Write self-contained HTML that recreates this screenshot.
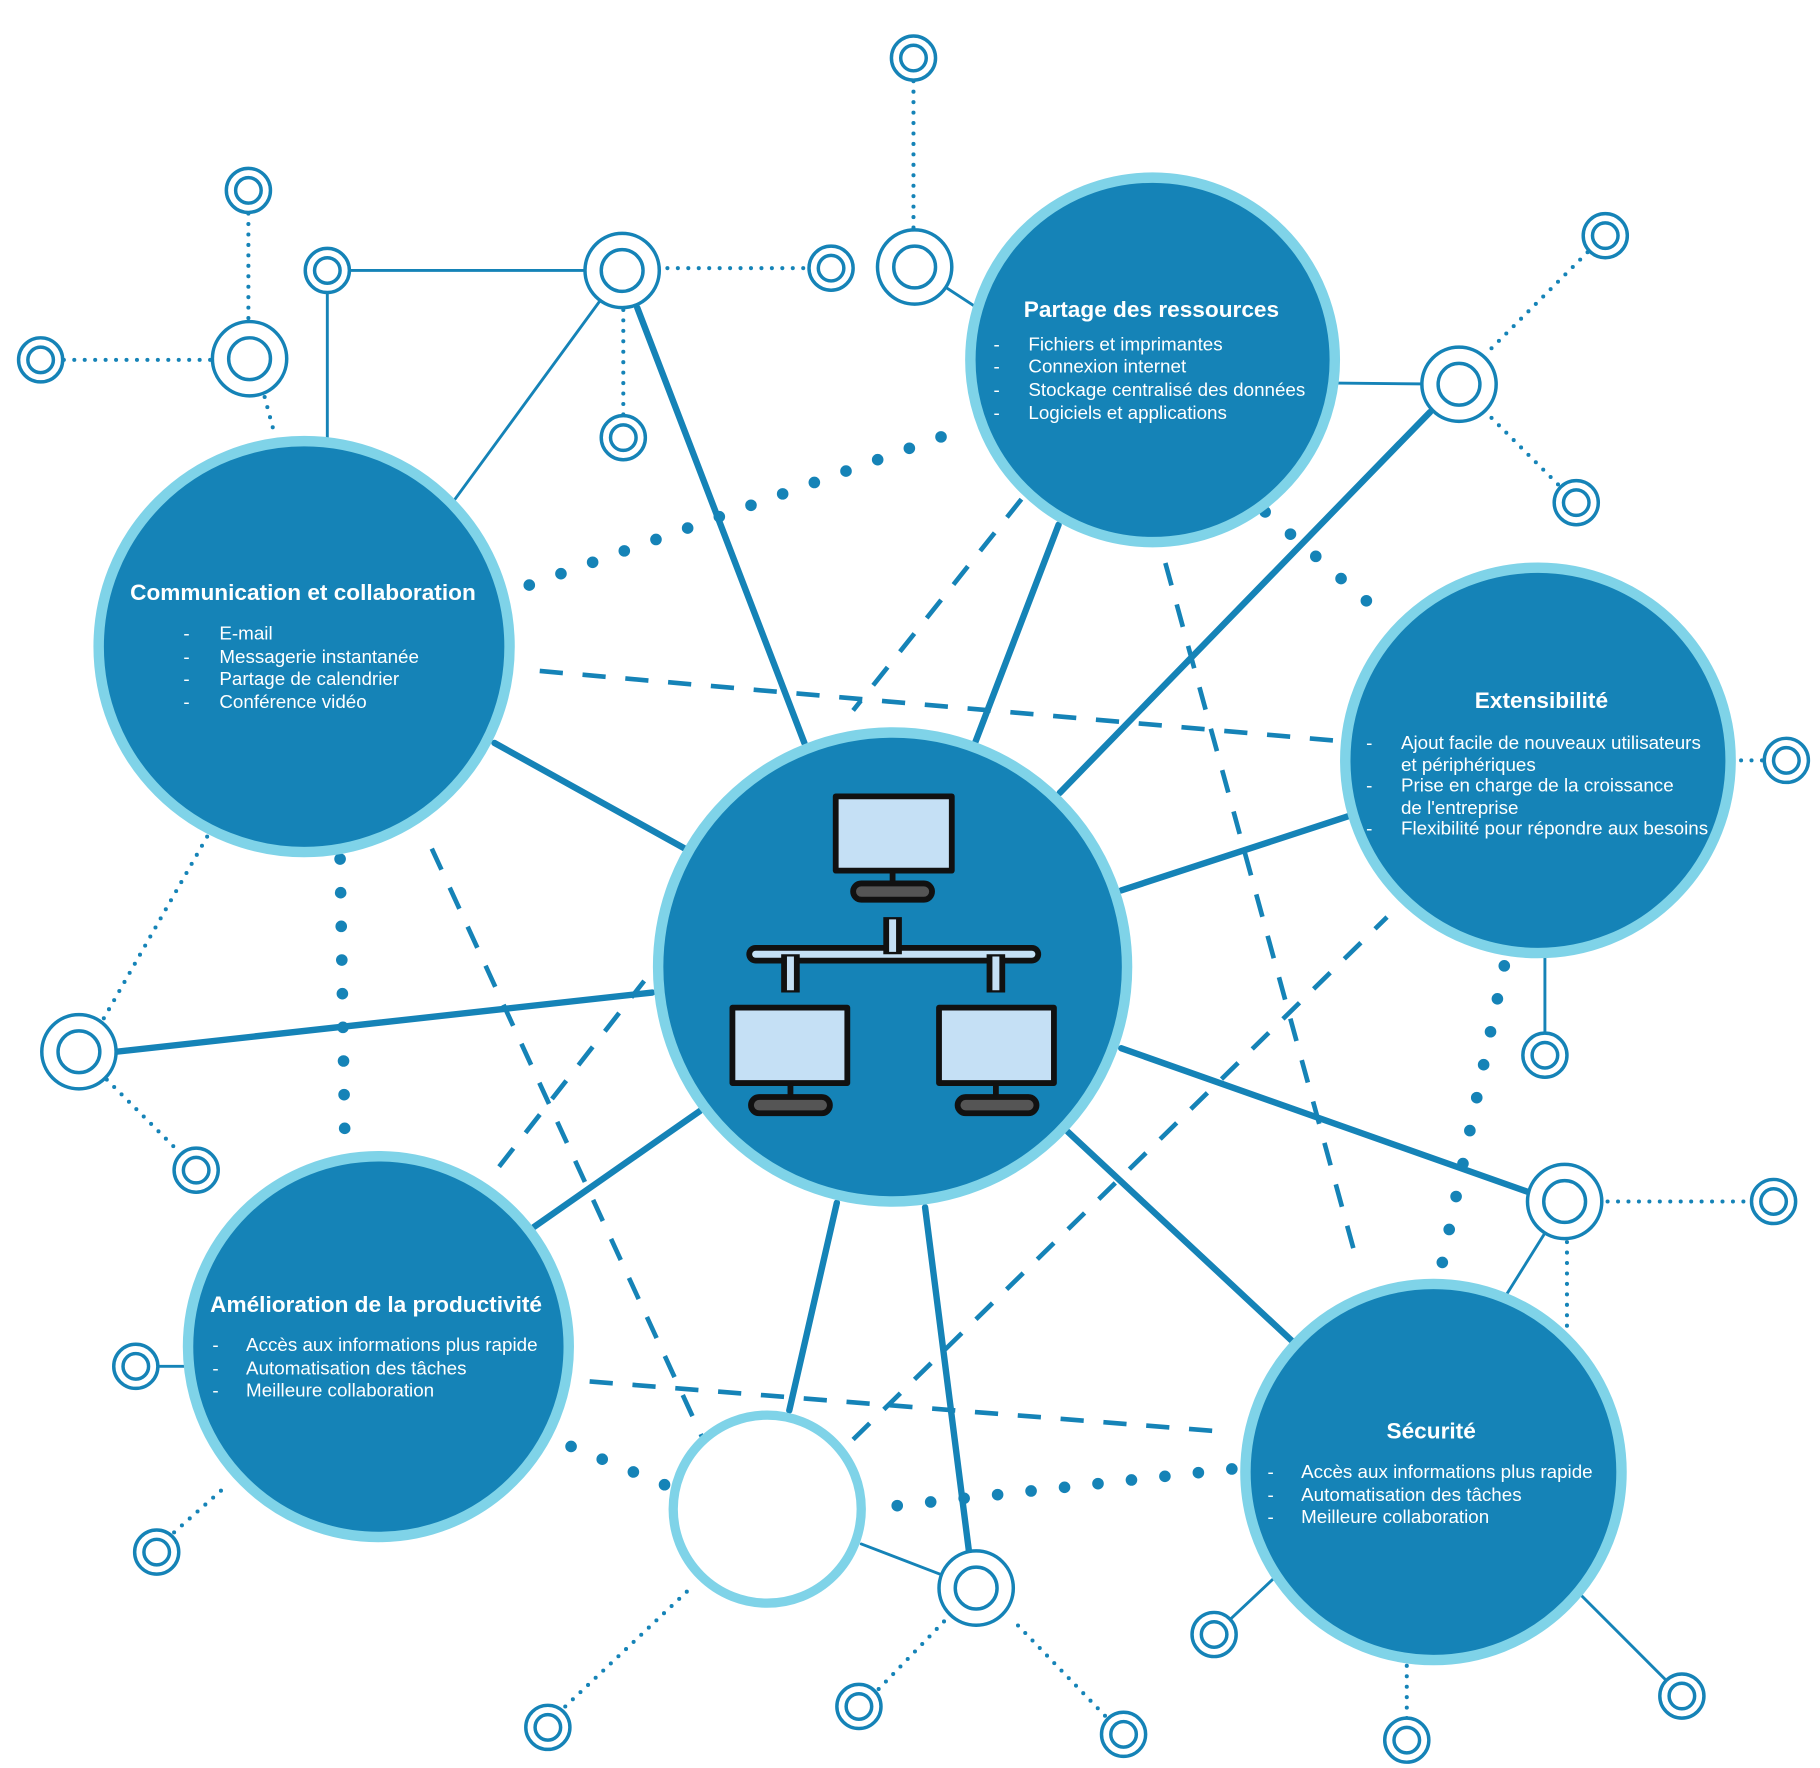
<!DOCTYPE html>
<html><head><meta charset="utf-8"><style>
html,body{margin:0;padding:0;background:#fff}
svg{display:block}
text{font-family:"Liberation Sans",Arial,sans-serif;fill:#fff}
.t{font-weight:bold;font-size:19.5px}
.i{font-size:16.2px}
</style></head><body>
<svg width="1820" height="1768" viewBox="0 0 1568 1523" preserveAspectRatio="none" xmlns="http://www.w3.org/2000/svg">
<g stroke="#1583b7" fill="none" stroke-linecap="round">
<g stroke-width="2.5">
<line x1="282" y1="233" x2="536" y2="233"/><line x1="282" y1="233" x2="282" y2="380"/>
<line x1="536" y1="233" x2="392" y2="430"/><line x1="788" y1="230" x2="840" y2="264"/>
<line x1="1150" y1="330" x2="1257" y2="331"/><line x1="1331" y1="820" x2="1331" y2="890"/>
<line x1="1348" y1="1035" x2="1298" y2="1115"/><line x1="1046" y1="1408" x2="1097" y2="1360"/>
<line x1="1362" y1="1374" x2="1449" y2="1461"/><line x1="117" y1="1177" x2="162" y2="1177"/>
<line x1="742" y1="1330" x2="841" y2="1368"/>
</g>
<g stroke-width="5.5">
<line x1="549" y1="265" x2="693" y2="640"/><line x1="912" y1="452" x2="840" y2="640"/>
<line x1="1232" y1="355" x2="913" y2="683"/><line x1="1162" y1="703" x2="966" y2="767"/>
<line x1="966" y1="903" x2="1320" y2="1028"/><line x1="920" y1="975" x2="1113" y2="1155"/>
<line x1="797" y1="1040" x2="835" y2="1338"/><line x1="721" y1="1036" x2="680" y2="1215"/>
<line x1="603" y1="957" x2="460" y2="1057"/><line x1="562" y1="855" x2="100" y2="906"/>
<line x1="426" y1="640" x2="590" y2="731"/>
</g>
<g stroke-width="3.5" stroke-dasharray="0 9">
<line x1="787" y1="70" x2="787" y2="198"/><line x1="214" y1="184" x2="214" y2="277"/>
<line x1="55" y1="310" x2="183" y2="310"/><line x1="575" y1="231" x2="700" y2="231"/>
<line x1="537" y1="267" x2="537" y2="359"/><line x1="228" y1="342" x2="236" y2="372"/>
<line x1="1285" y1="300" x2="1368" y2="217"/><line x1="1285" y1="360" x2="1345" y2="420"/>
<line x1="1500" y1="655" x2="1521" y2="655"/><line x1="1385" y1="1035" x2="1510" y2="1035"/>
<line x1="1350" y1="1070" x2="1350" y2="1145"/><line x1="85" y1="885" x2="180" y2="718"/>
<line x1="92" y1="930" x2="155" y2="993"/><line x1="150" y1="1320" x2="195" y2="1280"/>
<line x1="1212" y1="1480" x2="1212" y2="1433"/><line x1="757" y1="1455" x2="815" y2="1395"/>
<line x1="952" y1="1478" x2="872" y2="1395"/><line x1="487" y1="1470" x2="595" y2="1368"/>
</g>
<g stroke-width="10" stroke-dasharray="0 29">
<line x1="456" y1="504" x2="820" y2="373"/><line x1="1090" y1="441" x2="1180" y2="520"/>
<line x1="293" y1="740" x2="297" y2="975"/><line x1="1296" y1="832" x2="1240" y2="1100"/>
<line x1="492" y1="1246" x2="575" y2="1280"/><line x1="773" y1="1297" x2="1065" y2="1265"/>
</g>
<g stroke-width="4" stroke-dasharray="20 17" stroke-linecap="butt">
<line x1="465" y1="578" x2="1150" y2="638"/><line x1="880" y1="430" x2="735" y2="612"/>
<line x1="1004" y1="485" x2="1170" y2="1090"/><line x1="372" y1="731" x2="615" y2="1260"/>
<line x1="430" y1="1005" x2="555" y2="845"/><line x1="735" y1="1240" x2="1195" y2="790"/>
<line x1="508" y1="1190" x2="1050" y2="1233"/>
</g>
</g>
<g fill="#1583b7" stroke="#7fd3e8" stroke-width="9">
<circle cx="769" cy="833" r="202"/>
<circle cx="262" cy="557" r="177"/>
<circle cx="993" cy="310" r="157"/>
<circle cx="1325" cy="655" r="166"/>
<circle cx="326" cy="1160" r="164"/>
<circle cx="1235" cy="1268" r="162"/>
</g>
<circle cx="661" cy="1300" r="81" fill="#fff" stroke="#7fd3e8" stroke-width="8"/>
<g fill="#fff" stroke="#1583b7" stroke-width="3">
<circle cx="536" cy="233" r="32"/><circle cx="536" cy="233" r="18"/>
<circle cx="788" cy="230" r="32"/><circle cx="788" cy="230" r="18"/>
<circle cx="215" cy="309" r="32"/><circle cx="215" cy="309" r="18"/>
<circle cx="1257" cy="331" r="32"/><circle cx="1257" cy="331" r="18"/>
<circle cx="68" cy="906" r="32"/><circle cx="68" cy="906" r="18"/>
<circle cx="1348" cy="1035" r="32"/><circle cx="1348" cy="1035" r="18"/>
<circle cx="841" cy="1368" r="32"/><circle cx="841" cy="1368" r="18"/>
<circle cx="787" cy="50" r="19"/><circle cx="787" cy="50" r="11"/>
<circle cx="214" cy="164" r="19"/><circle cx="214" cy="164" r="11"/>
<circle cx="282" cy="233" r="19"/><circle cx="282" cy="233" r="11"/>
<circle cx="716" cy="231" r="19"/><circle cx="716" cy="231" r="11"/>
<circle cx="35" cy="310" r="19"/><circle cx="35" cy="310" r="11"/>
<circle cx="537" cy="377" r="19"/><circle cx="537" cy="377" r="11"/>
<circle cx="1383" cy="203" r="19"/><circle cx="1383" cy="203" r="11"/>
<circle cx="1358" cy="433" r="19"/><circle cx="1358" cy="433" r="11"/>
<circle cx="1539" cy="655" r="19"/><circle cx="1539" cy="655" r="11"/>
<circle cx="1331" cy="909" r="19"/><circle cx="1331" cy="909" r="11"/>
<circle cx="169" cy="1008" r="19"/><circle cx="169" cy="1008" r="11"/>
<circle cx="1528" cy="1035" r="19"/><circle cx="1528" cy="1035" r="11"/>
<circle cx="117" cy="1177" r="19"/><circle cx="117" cy="1177" r="11"/>
<circle cx="135" cy="1337" r="19"/><circle cx="135" cy="1337" r="11"/>
<circle cx="1046" cy="1408" r="19"/><circle cx="1046" cy="1408" r="11"/>
<circle cx="1449" cy="1461" r="19"/><circle cx="1449" cy="1461" r="11"/>
<circle cx="1212" cy="1499" r="19"/><circle cx="1212" cy="1499" r="11"/>
<circle cx="740" cy="1470" r="19"/><circle cx="740" cy="1470" r="11"/>
<circle cx="968" cy="1494" r="19"/><circle cx="968" cy="1494" r="11"/>
<circle cx="472" cy="1488" r="19"/><circle cx="472" cy="1488" r="11"/>
</g>
<g stroke="#111" stroke-width="5" stroke-linejoin="round">
<path d="M651 822 H889" stroke-width="16" stroke-linecap="round"/>
<path d="M651 822 H889" stroke="#c5e0f5" stroke-width="6" stroke-linecap="round"/>
<path d="M769 790 V822 M681 822 V855 M858 822 V855" stroke-width="16"/>
<path d="M769 792 V820 M681 824 V853 M858 824 V853" stroke="#c5e0f5" stroke-width="6"/>
<rect x="720" y="686" width="100" height="64" fill="#c5e0f5"/>
<rect x="631" y="868" width="99" height="65" fill="#c5e0f5"/>
<rect x="809" y="868" width="99" height="65" fill="#c5e0f5"/>
<line x1="769" y1="750" x2="769" y2="761"/><line x1="681" y1="933" x2="681" y2="945"/><line x1="858" y1="933" x2="858" y2="945"/>
<rect x="735" y="761" width="68" height="14" rx="7" fill="#555"/>
<rect x="647" y="945" width="68" height="14" rx="7" fill="#555"/>
<rect x="825" y="945" width="68" height="14" rx="7" fill="#555"/>
</g>
<text class="t" x="261" y="517" text-anchor="middle">Communication et collaboration</text>
<g class="i"><text x="158" y="551">-</text><text x="189" y="551">E-mail</text>
<text x="158" y="571">-</text><text x="189" y="571">Messagerie instantanée</text>
<text x="158" y="590">-</text><text x="189" y="590">Partage de calendrier</text>
<text x="158" y="610">-</text><text x="189" y="610">Conférence vidéo</text></g>
<text class="t" x="992" y="273" text-anchor="middle">Partage des ressources</text>
<g class="i"><text x="856" y="302">-</text><text x="886" y="302">Fichiers et imprimantes</text>
<text x="856" y="321">-</text><text x="886" y="321">Connexion internet</text>
<text x="856" y="341">-</text><text x="886" y="341">Stockage centralisé des données</text>
<text x="856" y="361">-</text><text x="886" y="361">Logiciels et applications</text></g>
<text class="t" x="1328" y="610" text-anchor="middle">Extensibilité</text>
<g class="i"><text x="1177" y="645">-</text><text x="1207" y="645">Ajout facile de nouveaux utilisateurs</text>
<text x="1207" y="664">et périphériques</text>
<text x="1177" y="682">-</text><text x="1207" y="682">Prise en charge de la croissance</text>
<text x="1207" y="701">de l'entreprise</text>
<text x="1177" y="719">-</text><text x="1207" y="719">Flexibilité pour répondre aux besoins</text></g>
<text class="t" x="324" y="1130" text-anchor="middle">Amélioration de la productivité</text>
<g class="i"><text x="183" y="1164">-</text><text x="212" y="1164">Accès aux informations plus rapide</text>
<text x="183" y="1184">-</text><text x="212" y="1184">Automatisation des tâches</text>
<text x="183" y="1203">-</text><text x="212" y="1203">Meilleure collaboration</text></g>
<text class="t" x="1233" y="1239" text-anchor="middle">Sécurité</text>
<g class="i"><text x="1092" y="1273">-</text><text x="1121" y="1273">Accès aux informations plus rapide</text>
<text x="1092" y="1293">-</text><text x="1121" y="1293">Automatisation des tâches</text>
<text x="1092" y="1312">-</text><text x="1121" y="1312">Meilleure collaboration</text></g>
</svg>
</body></html>
